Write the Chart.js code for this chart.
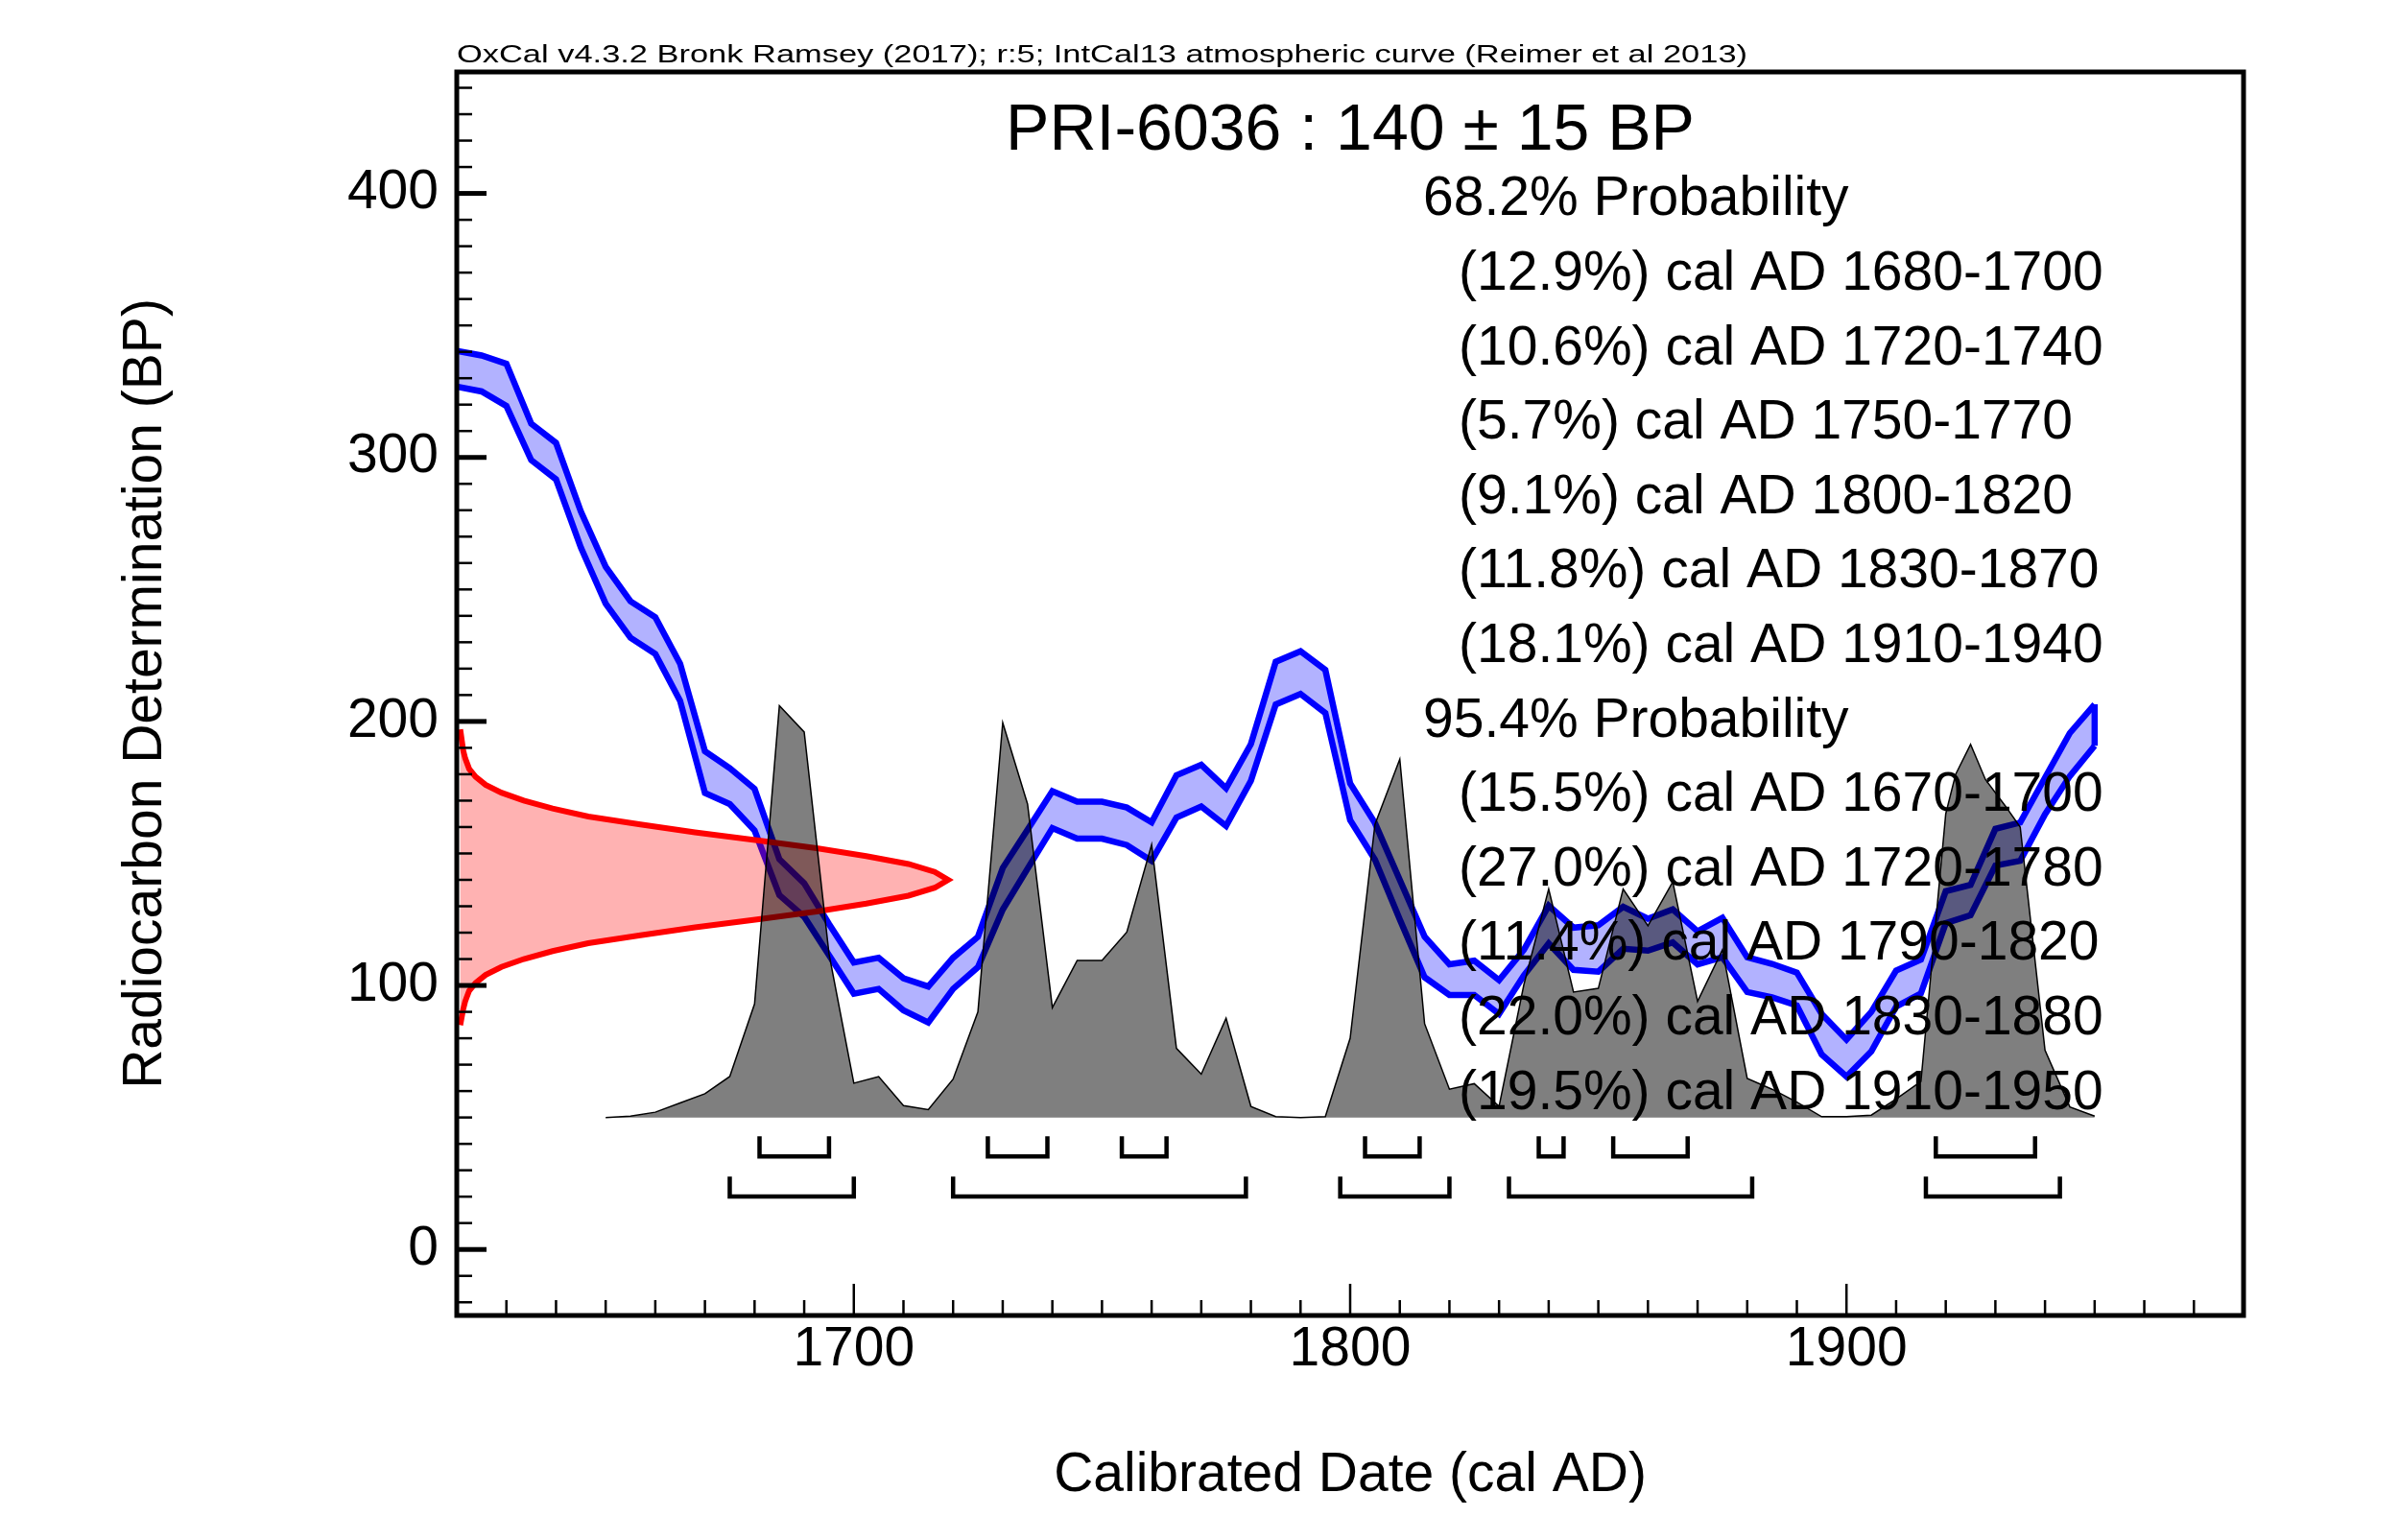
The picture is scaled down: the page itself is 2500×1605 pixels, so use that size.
<!DOCTYPE html>
<html><head><meta charset="utf-8">
<script src="https://cdn.jsdelivr.net/npm/chart.js@4/dist/chart.umd.min.js"></script>
<style>html,body{margin:0;padding:0;background:#fff;}canvas{display:block;}</style>
</head><body>
<canvas id="c" width="2500" height="1605"></canvas>
<script>
// ---- text ----
const headerText = "OxCal v4.3.2 Bronk Ramsey (2017); r:5; IntCal13 atmospheric curve (Reimer et al 2013)";
const titleText = "PRI-6036 : 140 \u00B1 15 BP";
const prob68Title = "68.2% Probability";
const prob68Lines = ["(12.9%) cal AD 1680-1700","(10.6%) cal AD 1720-1740","(5.7%) cal AD 1750-1770","(9.1%) cal AD 1800-1820","(11.8%) cal AD 1830-1870","(18.1%) cal AD 1910-1940"];
const prob95Title = "95.4% Probability";
const prob95Lines = ["(15.5%) cal AD 1670-1700","(27.0%) cal AD 1720-1780","(11.4%) cal AD 1790-1820","(22.0%) cal AD 1830-1880","(19.5%) cal AD 1910-1950"];
const xTitle = "Calibrated Date (cal AD)";
const yTitle = "Radiocarbon Determination (BP)";
const xTickLabels = [1700, 1800, 1900];
const yTickLabels = [0, 100, 200, 300, 400];

// ---- calibration curve (IntCal13, +/- 1 sigma band) ----
const curveYears = [1620,1625,1630,1635,1640,1645,1650,1655,1660,1665,1670,1675,1680,1685,1690,1695,1700,1705,1710,1715,1720,1725,1730,1735,1740,1745,1750,1755,1760,1765,1770,1775,1780,1785,1790,1795,1800,1805,1810,1815,1820,1825,1830,1835,1840,1845,1850,1855,1860,1865,1870,1875,1880,1885,1890,1895,1900,1905,1910,1915,1920,1925,1930,1935,1940,1945,1950];
const curveUpper = [340.4,338.6,335.5,312.8,305.5,279.5,258.6,245.5,239.5,221.9,188.7,182.3,174.5,147.8,138.7,123.3,108.7,110.5,102.7,99.6,110.5,118.4,144.5,159.0,173.6,169.6,169.6,167.4,161.8,179.6,183.6,174.7,191.4,222.6,226.6,219.5,176.5,161.5,140.0,118.5,108.0,109.4,102.0,113.5,130.2,121.9,122.8,129.8,125.3,128.8,120.5,125.6,110.7,108.2,104.9,89.2,79.5,90.0,105.6,109.8,135.7,138.1,159.3,161.7,178.7,195.6,206.5];
const curveLower = [326.8,325.0,319.5,299.0,291.7,265.9,244.6,231.7,225.6,207.8,172.9,168.7,158.7,134.2,126.0,111.5,96.9,98.7,90.6,86.0,98.7,106.9,128.7,144.2,159.6,155.6,155.6,153.2,147.2,163.6,167.8,160.4,177.5,206.4,210.4,203.2,162.6,147.6,125.0,103.1,96.4,96.4,89.2,103.8,115.9,105.9,105.2,113.9,113.2,116.3,108.0,110.7,97.5,95.5,92.4,73.9,65.5,75.0,92.0,97.0,123.6,126.6,145.4,147.2,164.8,179.3,190.8];

// ---- measurement 140 +/- 15 BP (drawn against the BP axis) ----
const measBP   = [197,193,189,186,182,179,176,173,170,167,164,161,158,155,152,149,146,143,140,137,134,131,128,125,122,119,116,113,110,107,104,101,98,94,91,88,85];
const measYear = [1620.7,1621.0,1621.3,1621.7,1622.5,1623.8,1625.8,1629.0,1633.5,1639.3,1646.5,1657.0,1668.0,1680.5,1692.5,1702.5,1711.0,1716.3,1719.0,1716.3,1711.0,1702.5,1692.5,1680.5,1668.0,1657.0,1646.5,1639.3,1633.5,1629.0,1625.8,1623.8,1622.5,1621.7,1621.3,1621.0,1620.7];

// ---- calibrated probability distribution (on a base line at 50 BP) ----
const postYears = [1650,1655,1660,1665,1670,1675,1680,1685,1690,1695,1700,1705,1710,1715,1720,1725,1730,1735,1740,1745,1750,1755,1760,1765,1770,1775,1780,1785,1790,1795,1800,1805,1810,1815,1820,1825,1830,1835,1840,1845,1850,1855,1860,1865,1870,1875,1880,1885,1890,1895,1900,1905,1910,1915,1920,1922,1925,1928,1932,1935,1940,1945,1950];
const postBP = [50,50.5,52,55.5,59,65.5,93,206,196,112,63,65.5,54.5,53,64.5,90,199.5,168.7,91.6,109.5,109.5,120.2,153.3,76.2,66.4,87.6,54.2,50.3,50,50.3,80,161,185.7,85.5,60.7,62.8,54.2,100.3,136.5,97.5,98.9,136.5,122.6,139.2,94,113.5,64.8,60.7,55.8,50.3,50.3,50.9,57,63.6,165,180,191.3,178,168,160,75.5,54,50.5];

// ---- calibrated ranges (brackets) ----
const range68Start = [1681,1727,1754,1803,1838,1853,1918];
const range68End   = [1695,1739,1763,1814,1843,1868,1938];
const range95Start = [1675,1720,1798,1832,1916];
const range95End   = [1700,1779,1820,1881,1943];

// ---- build ----
const FONT = '"Liberation Sans", Arial, Helvetica, sans-serif';
const pts = (xs, ys) => xs.map((x, i) => ({x: x, y: ys[i]}));
function brackets(starts, ends, top, bottom) {
  const out = [];
  starts.forEach((s, i) => {
    out.push({x: s, y: top}, {x: s, y: bottom}, {x: ends[i], y: bottom}, {x: ends[i], y: top}, {x: ends[i], y: null});
  });
  return out;
}
const last = curveYears.length - 1;

const decor = {
  id: 'decor',
  afterDraw(chart) {
    const {ctx, chartArea: a, scales: {x, y}} = chart;
    ctx.save();
    ctx.strokeStyle = '#000';
    ctx.lineCap = 'butt';
    for (let v = -20; v <= 440; v += 10) {
      const py = y.getPixelForValue(v);
      const major = v % 100 === 0;
      ctx.lineWidth = major ? 5 : 2.5;
      ctx.beginPath(); ctx.moveTo(a.left, py); ctx.lineTo(a.left + (major ? 31 : 16), py); ctx.stroke();
    }
    for (let v = 1630; v <= 1970; v += 10) {
      const px = x.getPixelForValue(v);
      const major = v % 100 === 0;
      ctx.lineWidth = 2.5;
      ctx.beginPath(); ctx.moveTo(px, a.bottom); ctx.lineTo(px, a.bottom - (major ? 33 : 16)); ctx.stroke();
    }
    ctx.lineWidth = 5;
    ctx.strokeRect(a.left, a.top, a.right - a.left, a.bottom - a.top);

    ctx.fillStyle = '#000';
    ctx.textBaseline = 'alphabetic';
    // header (wide rendering)
    ctx.font = '26px ' + FONT;
    ctx.textAlign = 'left';
    const w = ctx.measureText(headerText).width;
    ctx.save();
    ctx.translate(a.left, 65);
    ctx.scale(1345 / w, 1);
    ctx.fillText(headerText, 0, 0);
    ctx.restore();
    // title
    ctx.font = '68px ' + FONT;
    ctx.textAlign = 'center';
    ctx.fillText(titleText, (a.left + a.right) / 2, 156);
    // probability listing
    ctx.font = '57px ' + FONT;
    ctx.textAlign = 'left';
    const lines = [[prob68Title, 0]].concat(prob68Lines.map(t => [t, 1]), [[prob95Title, 0]], prob95Lines.map(t => [t, 1]));
    lines.forEach((l, i) => {
      ctx.fillText(l[0], l[1] ? 1520 : 1483, 224.3 + i * 77.6);
    });
    ctx.restore();
  }
};

new Chart(document.getElementById('c'), {
  type: 'scatter',
  data: {
    datasets: [
      { label: 'Calibrated distribution', data: pts(postYears, postBP), showLine: true,
        borderColor: '#000', borderWidth: 1.5, backgroundColor: 'rgba(0,0,0,0.5)', fill: {value: 50}, pointRadius: 0 },
      { label: '68.2% ranges', data: brackets(range68Start, range68End, 42.9, 35.2), showLine: true,
        borderColor: '#000', borderWidth: 4.5, pointRadius: 0, fill: false, spanGaps: false },
      { label: '95.4% ranges', data: brackets(range95Start, range95End, 27.6, 20.1), showLine: true,
        borderColor: '#000', borderWidth: 4.5, pointRadius: 0, fill: false, spanGaps: false },
      { label: 'Measurement', data: pts(measYear, measBP), showLine: true,
        borderColor: '#ff0000', borderWidth: 6, backgroundColor: 'rgba(255,0,0,0.3)', fill: 'shape', pointRadius: 0 },
      { label: 'Curve upper', data: pts(curveYears, curveUpper), showLine: true,
        borderColor: '#0000ff', borderWidth: 6.5, backgroundColor: 'rgba(0,0,255,0.3)', fill: '+1', pointRadius: 0 },
      { label: 'Curve lower', data: pts(curveYears, curveLower), showLine: true,
        borderColor: '#0000ff', borderWidth: 6.5, fill: false, pointRadius: 0 },
      { label: 'Curve end', data: [{x: curveYears[last], y: curveLower[last]}, {x: curveYears[last], y: curveUpper[last]}], showLine: true,
        borderColor: '#0000ff', borderWidth: 6.5, fill: false, pointRadius: 0 }
    ]
  },
  options: {
    responsive: false,
    animation: false,
    devicePixelRatio: 1,
    layout: { padding: { left: 0, right: 162, top: 75, bottom: 0 } },
    plugins: { legend: { display: false }, tooltip: { enabled: false }, title: { display: false } },
    elements: { line: { tension: 0, borderJoinStyle: 'miter' } },
    scales: {
      x: {
        type: 'linear', min: 1620, max: 1980,
        grid: { display: false, drawTicks: false },
        border: { display: false },
        afterBuildTicks: s => { s.ticks = xTickLabels.map(v => ({value: v})); },
        afterFit: s => { s.height = 234; },
        ticks: { color: '#000', font: { family: FONT, size: 57, lineHeight: 1 }, padding: 8, maxRotation: 0, autoSkip: false,
                 callback: v => String(v) },
        title: { display: true, text: xTitle, color: '#000', font: { family: FONT, size: 57, lineHeight: 1.2 }, padding: { top: 0, bottom: 33 } }
      },
      y: {
        type: 'linear', min: -25, max: 446,
        grid: { display: false, drawTicks: false },
        border: { display: false },
        afterBuildTicks: s => { s.ticks = yTickLabels.map(v => ({value: v})); },
        afterFit: s => { s.width = 476; },
        ticks: { color: '#000', font: { family: FONT, size: 57 }, padding: 19, autoSkip: false, callback: v => String(v) },
        title: { display: true, text: yTitle, color: '#000', font: { family: FONT, size: 57, lineHeight: 1.2 }, padding: { top: 118, bottom: 0 } }
      }
    }
  },
  plugins: [decor]
});
</script>
</body></html>
